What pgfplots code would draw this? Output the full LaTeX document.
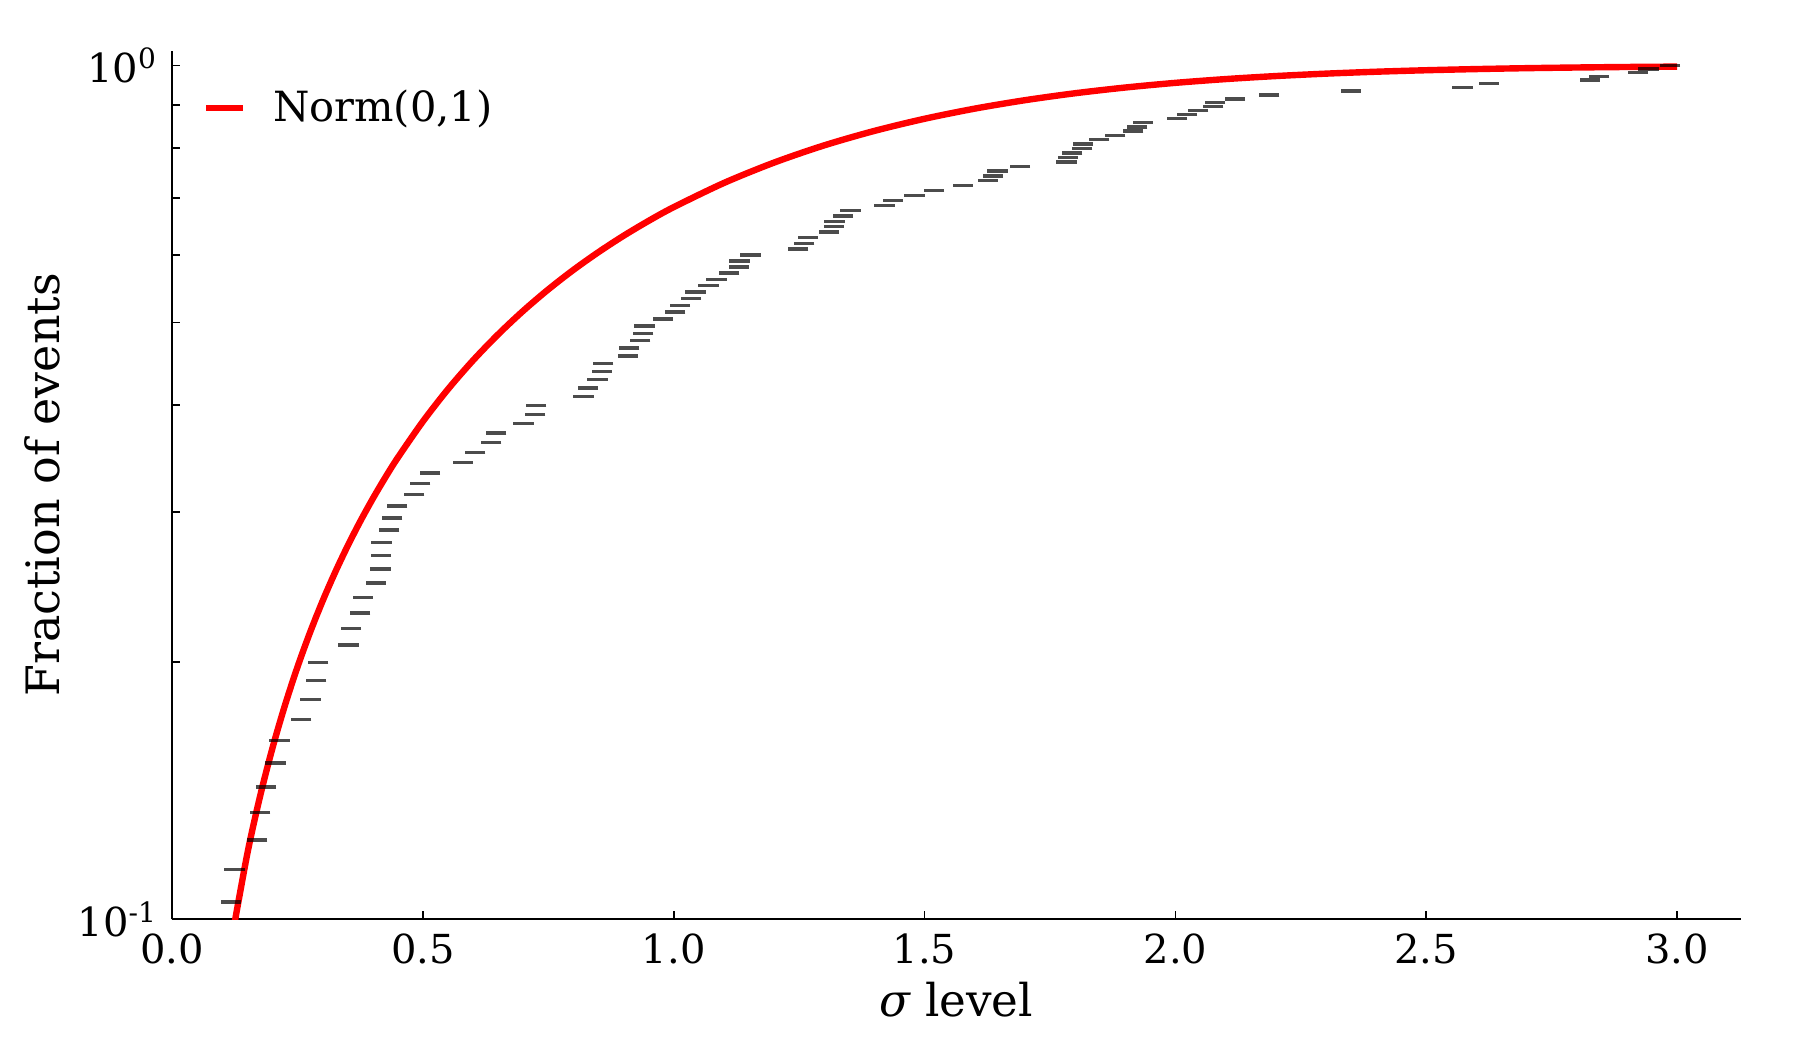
\documentclass[border=0pt]{standalone}
\usepackage{fontspec}
\setmainfont{DejaVu Serif}
\usepackage{pgfplots}
\pgfplotsset{compat=1.18}
\usepackage{pgfplotstable}

% Cumulative fraction of events (k/105) against the sigma level of each event
\pgfplotstableread{
x      y
0.1172 0.10476
0.1242 0.11429
0.1698 0.12381
0.1758 0.13333
0.1870 0.14286
0.2063 0.15238
0.2143 0.16190
0.2575 0.17143
0.2761 0.18095
0.2874 0.19048
0.2916 0.20000
0.3522 0.20952
0.3564 0.21905
0.3753 0.22857
0.3803 0.23810
0.4062 0.24762
0.4152 0.25714
0.4166 0.26667
0.4172 0.27619
0.4329 0.28571
0.4389 0.29524
0.4489 0.30476
0.4828 0.31429
0.4947 0.32381
0.5139 0.33333
0.5796 0.34286
0.6044 0.35238
0.6362 0.36190
0.6462 0.37143
0.7006 0.38095
0.7239 0.39048
0.7259 0.40000
0.8202 0.40952
0.8288 0.41905
0.8481 0.42857
0.8565 0.43810
0.8595 0.44762
0.9085 0.45714
0.9113 0.46667
0.9332 0.47619
0.9394 0.48571
0.9414 0.49524
0.9787 0.50476
1.0030 0.51429
1.0126 0.52381
1.0341 0.53333
1.0431 0.54286
1.0697 0.55238
1.0857 0.56190
1.1108 0.57143
1.1297 0.58095
1.1311 0.59048
1.1533 0.60000
1.2482 0.60952
1.2602 0.61905
1.2674 0.62857
1.3096 0.63810
1.3191 0.64762
1.3205 0.65714
1.3371 0.66667
1.3524 0.67619
1.4202 0.68571
1.4367 0.69524
1.4800 0.70476
1.5185 0.71429
1.5762 0.72381
1.6259 0.73333
1.6361 0.74286
1.6454 0.75238
1.6899 0.76190
1.7830 0.77143
1.7855 0.78095
1.7943 0.79048
1.8143 0.80000
1.8159 0.80952
1.8481 0.81905
1.8801 0.82857
1.9159 0.83810
1.9239 0.84762
1.9349 0.85714
2.0028 0.86667
2.0231 0.87619
2.0455 0.88571
2.0754 0.89524
2.0789 0.90476
2.1188 0.91429
2.1870 0.92381
2.3496 0.93333
2.5723 0.94286
2.6245 0.95238
2.8258 0.96190
2.8449 0.97143
2.9221 0.98095
2.9426 0.99048
2.9859 1.00000
}\events

% Fraction of a standard normal within +/- x sigma
\pgfplotstableread{
x     y
0.120 0.09552
0.150 0.11924
0.175 0.13892
0.200 0.15852
0.225 0.17802
0.250 0.19741
0.275 0.21668
0.300 0.23582
0.325 0.25482
0.350 0.27366
0.375 0.29234
0.400 0.31084
0.425 0.32916
0.450 0.34729
0.500 0.38292
0.550 0.41768
0.600 0.45149
0.650 0.48431
0.700 0.51607
0.750 0.54675
0.800 0.57629
0.850 0.60467
0.900 0.63188
0.950 0.65789
1.000 0.68269
1.100 0.72867
1.200 0.76986
1.300 0.80640
1.400 0.83849
1.500 0.86639
1.600 0.89040
1.700 0.91087
1.800 0.92814
1.900 0.94257
2.000 0.95450
2.100 0.96427
2.200 0.97219
2.300 0.97855
2.400 0.98360
2.500 0.98758
2.600 0.99068
2.700 0.99307
2.800 0.99489
2.900 0.99627
3.000 0.99730
}\normcurve

\begin{document}
\begin{tikzpicture}
\useasboundingbox (-43pt,-32.675pt) rectangle (407pt,229.825pt);
\begin{axis}[
  at={(0,0)}, anchor=south west,
  scale only axis,
  width=392.2pt, height=217.15pt,
  xmin=0, xmax=3.127,
  ymode=log, ymin=0.1, ymax=1.041,
  axis lines=left,
  axis line style={-, line width=0.45pt},
  tick align=inside,
  major tick length=2pt, minor tick length=2pt,
  tick style={line width=0.45pt, black},
  xtick={0,0.5,1,1.5,2,2.5,3},
  xticklabels={0.0,0.5,1.0,1.5,2.0,2.5,3.0},
  ytick={0.1,1},
  yticklabels={10\textsuperscript{-1},10\textsuperscript{0}},
  minor ytick={0.2,0.3,0.4,0.5,0.6,0.7,0.8,0.9},
  ticklabel style={font=\fontsize{10}{12}\selectfont},
  xlabel={{\itshape σ} level},
  ylabel={Fraction of events},
  xlabel style={at={(axis description cs:0.5,-0.1121)}, anchor=base,
    font=\fontsize{11.3}{13}\selectfont},
  ylabel style={at={(axis description cs:-0.062,0.5)}, anchor=south,
    font=\fontsize{11.5}{13}\selectfont},
  legend style={draw=none, fill=none, inner sep=0pt,
    at={(axis description cs:0.0193,0.9338)}, anchor=west,
    font=\fontsize{10.4}{12}\selectfont, column sep=4.6pt},
  legend image code/.code={\draw[#1] (0pt,0pt) -- (9.3pt,0pt);},
  legend cell align=left,
]
\addplot[red, line width=1.6pt, smooth] table[x=x, y=y] {\normcurve};
\addlegendentry{Norm(0,1)}
\addplot[only marks, mark=-, mark size=2.55pt, forget plot,
  mark options={draw=black, draw opacity=0.7, line width=0.85pt}]
  table[x=x, y=y] {\events};
\end{axis}
\end{tikzpicture}
\end{document}
